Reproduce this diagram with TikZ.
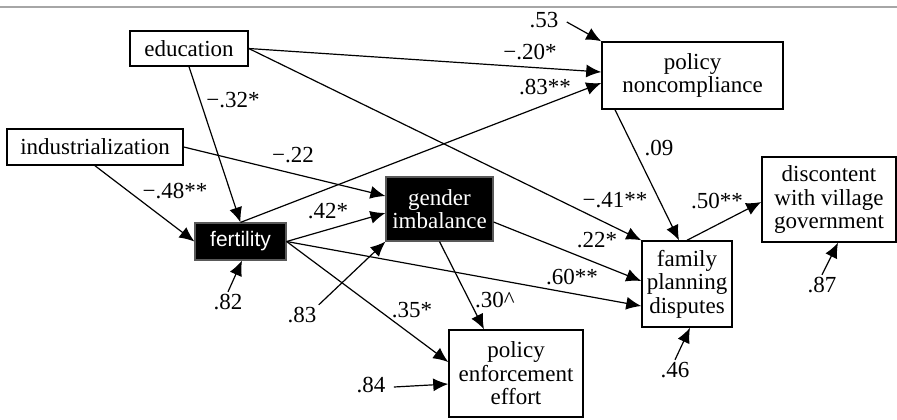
\documentclass[tikz,border=0pt]{standalone}
\usepackage{fontspec}
\setmainfont{Liberation Serif}
\newfontfamily\fertfont{Liberation Sans}
\usetikzlibrary{arrows.meta}
\begin{document}
\begin{tikzpicture}[x=0.5pt,y=-0.5pt,
  every node/.style={font=\fontsize{11.5}{11.8}\selectfont},
  wbox/.style={draw, line width=0.75pt, fill=white, inner sep=0pt, align=center},
  bbox/.style={draw=gray!70!black, line width=0.6pt, fill=black, text=white, inner sep=0pt, align=center},
  lab/.style={inner sep=1pt},
  arr/.style={line width=0.6pt, -{Latex[length=7.5pt,width=6.5pt]}}]
\useasboundingbox (0,0) rectangle (897,419);
\draw[gray!70, line width=0.6pt] (0,7) -- (897,7);
% boxes
\node[wbox, minimum width=59pt, minimum height=17.5pt] (edu) at (189,48.5) {education};
\node[wbox, minimum width=88pt, minimum height=18pt] (ind) at (95,147) {industrialization};
\node[bbox, minimum width=45.5pt, minimum height=18.5pt, font=\fertfont\fontsize{10.5}{12}\selectfont] (fert) at (240.5,241.5) {fertility};
\node[bbox, minimum width=53.5pt, minimum height=32pt] (gen) at (439.5,209) {gender\\imbalance};
\node[wbox, minimum width=90.5pt, minimum height=33.5pt] (pn) at (692.5,75.5) {policy\\noncompliance};
\node[wbox, minimum width=67pt, minimum height=42.5pt] (disc) at (829,199.5) {discontent\\with village\\government};
\node[wbox, minimum width=45pt, minimum height=43pt] (fpd) at (687,284) {family\\planning\\disputes};
\node[wbox, minimum width=67pt, minimum height=43.5pt] (pee) at (516,373.5) {policy\\enforcement\\effort};
% residual labels
\node[lab] (r53) at (544,20) {.53};
\node[lab] (r82) at (228,302) {.82};
\node[lab] (r83) at (302,315) {.83};
\node[lab] (r84) at (371,385) {.84};
\node[lab] (r46) at (675,370) {.46};
\node[lab] (r87) at (822,285) {.87};
% path coefficient labels
\node[lab] (l32) at (233,100) {−.32*};
\node[lab] (l22) at (293,155) {−.22};
\node[lab] (l48) at (175,191) {−.48**};
\node[lab] (l42) at (328,211) {.42*};
\node[lab] (l20) at (530,52) {−.20*};
\node[lab] (l83) at (545,87) {.83**};
\node[lab] (l09) at (659,148) {.09};
\node[lab] (l41) at (615,200) {−.41**};
\node[lab] (l50) at (717,201) {.50**};
\node[lab] (l22b) at (597,240) {.22*};
\node[lab] (l60) at (572,277) {.60**};
\node[lab] (l30) at (495,300) {.30\textasciicircum};
\node[lab] (l35) at (412,310) {.35*};
% connectors
\draw[arr] (edu.east) -- ([yshift=1.75pt]pn.west);
\draw[arr] (edu.east) -- (fpd.north west);
\draw[arr] (edu.south) -- (fert.north);
\draw[arr] (ind.east) -- ([yshift=6.5pt]gen.west);
\draw[arr] (ind.south) -- (fert.west);
\draw[arr] (fert.north) -- ([yshift=-3.75pt]pn.west);
\draw[arr] (fert.east) -- ([yshift=-2pt]gen.west);
\draw[arr] (fert.east) -- ([yshift=-11pt]fpd.west);
\draw[arr] (fert.east) -- ([yshift=5.75pt]pee.west);
\draw[arr] ([yshift=-6.5pt]gen.east) -- ([yshift=1.5pt]fpd.west);
\draw[arr] (gen.south) -- ([xshift=-16pt]pee.north);
\draw[arr] ([xshift=-38.75pt]pn.south) -- ([xshift=-4pt]fpd.north);
\draw[arr] (fpd.north) -- ([yshift=-1.25pt]disc.west);
% residual arrows
\draw[arr] ([xshift=3pt,yshift=-1pt]r53.east) -- (pn.north west);
\draw[arr] (r82.north) -- ([xshift=0.75pt]fert.south);
\draw[arr] (r83.north east) -- (gen.south west);
\draw[arr] ([xshift=3pt,yshift=-1pt]r84.east) -- ([yshift=-5.25pt]pee.west);
\draw[arr] (r46.north) -- ([xshift=1.5pt]fpd.south);
\draw[arr] (r87.north) -- ([xshift=4.5pt]disc.south);
\end{tikzpicture}
\end{document}
